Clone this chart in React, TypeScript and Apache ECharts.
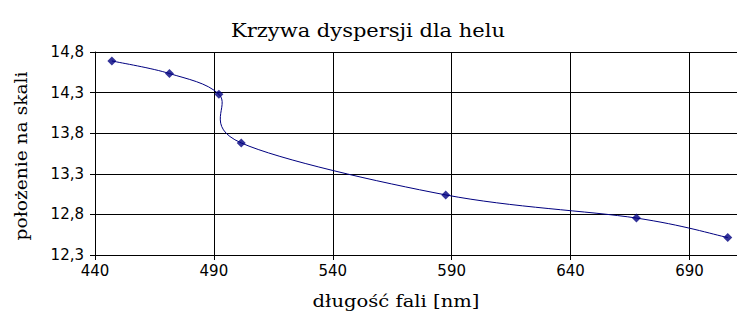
import React, { useEffect, useRef } from "react";
import * as echarts from "echarts";

// Data
const wavelengthsNm: number[] = [447.1, 471.3, 492.1, 501.5, 587.5, 667.7, 706.1];
const scalePositions: number[] = [14.69, 14.535, 14.28, 13.68, 13.04, 12.755, 12.515];

const titleText = "Krzywa dyspersji dla helu";
const xAxisName = "długość fali [nm]";
const yAxisName = "położenie na skali";

const xMin = 440;
const xMax = 710;
const xStep = 50;
const yMin = 12.3;
const yMax = 14.8;
const yStep = 0.5;

const LINE_COLOR = "#000080";
const SERIF = "DejaVu Serif";
const SANS = "DejaVu Sans";

function measure(text: string, size: number, family: string): number {
  const ctx = document.createElement("canvas").getContext("2d");
  if (!ctx) return text.length * size * 0.55;
  ctx.font = `${size}px "${family}"`;
  return ctx.measureText(text).width || text.length * size * 0.55;
}

export default function App() {
  const ref = useRef<HTMLDivElement>(null);

  useEffect(() => {
    if (!ref.current) return;
    const chart = echarts.init(ref.current, null, { renderer: "svg" });
    const pts = wavelengthsNm.map((x, i) => [x, scalePositions[i]]);

    const titleSize = 19;
    const nameSize = 16;
    const titleScale = 274 / measure(titleText, titleSize, SERIF);
    const xNameScale = 167 / measure(xAxisName, nameSize, SERIF);
    const yNameScale = 169 / measure(yAxisName, nameSize, SERIF);

    const option: any = {
      animation: false,
      backgroundColor: "#ffffff",
      grid: { left: 95, top: 52, right: 0, bottom: 62, containLabel: false },
      xAxis: {
        type: "value",
        min: xMin,
        max: xMax,
        interval: xStep,
        axisLine: { show: true, lineStyle: { color: "#000", width: 1 } },
        axisTick: { show: true, length: 5, inside: false, lineStyle: { color: "#000" } },
        axisLabel: {
          margin: 8,
          fontFamily: SANS,
          fontSize: 15,
          color: "#000",
          showMaxLabel: false,
          formatter: (v: number) => ((v - xMin) % xStep === 0 ? String(v) : ""),
        },
        splitLine: { show: true, lineStyle: { color: "#000", width: 1 } },
      },
      yAxis: {
        type: "value",
        min: yMin,
        max: yMax,
        interval: yStep,
        axisLine: { show: true, lineStyle: { color: "#000", width: 1 } },
        axisTick: { show: true, length: 5, inside: false, lineStyle: { color: "#000" } },
        axisLabel: {
          margin: 11,
          fontFamily: SANS,
          fontSize: 15,
          color: "#000",
          formatter: (v: number) => v.toFixed(1).replace(".", ","),
        },
        splitLine: { show: true, lineStyle: { color: "#000", width: 1 } },
      },
      graphic: [
        {
          type: "text",
          x: 368,
          y: 30.5,
          scaleX: titleScale,
          style: {
            text: titleText,
            fontFamily: SERIF,
            fontSize: titleSize,
            fill: "#000",
            align: "center",
            verticalAlign: "middle",
          },
        },
        {
          type: "text",
          x: 396,
          y: 301,
          scaleX: xNameScale,
          style: {
            text: xAxisName,
            fontFamily: SERIF,
            fontSize: nameSize,
            fill: "#000",
            align: "center",
            verticalAlign: "middle",
          },
        },
        {
          type: "text",
          x: 21,
          y: 156,
          rotation: Math.PI / 2,
          scaleX: yNameScale,
          style: {
            text: yAxisName,
            fontFamily: SERIF,
            fontSize: nameSize,
            fill: "#000",
            align: "center",
            verticalAlign: "middle",
          },
        },
      ],
      series: [
        {
          type: "custom",
          data: pts,
          clip: true,
          z: 2,
          renderItem: (params: any, api: any) => {
            const i = params.dataIndex;
            const n = pts.length;
            if (i >= n - 1) return null;
            const P = (k: number) => api.coord(pts[Math.max(0, Math.min(n - 1, k))]);
            const p0 = P(i - 1);
            const p1 = P(i);
            const p2 = P(i + 1);
            const p3 = P(i + 2);
            return {
              type: "bezierCurve",
              shape: {
                x1: p1[0],
                y1: p1[1],
                x2: p2[0],
                y2: p2[1],
                cpx1: p1[0] + (p2[0] - p0[0]) / 6,
                cpy1: p1[1] + (p2[1] - p0[1]) / 6,
                cpx2: p2[0] - (p3[0] - p1[0]) / 6,
                cpy2: p2[1] - (p3[1] - p1[1]) / 6,
              },
              style: { stroke: LINE_COLOR, lineWidth: 1, fill: null },
            };
          },
        },
        {
          type: "scatter",
          data: pts,
          symbol: "diamond",
          symbolSize: 9,
          z: 3,
          itemStyle: { color: LINE_COLOR },
        },
      ],
    };

    chart.setOption(option);
    return () => chart.dispose();
  }, []);

  return (
    <div
      ref={ref}
      style={{ position: "absolute", left: 0, top: 0, width: 737, height: 317 }}
    />
  );
}
